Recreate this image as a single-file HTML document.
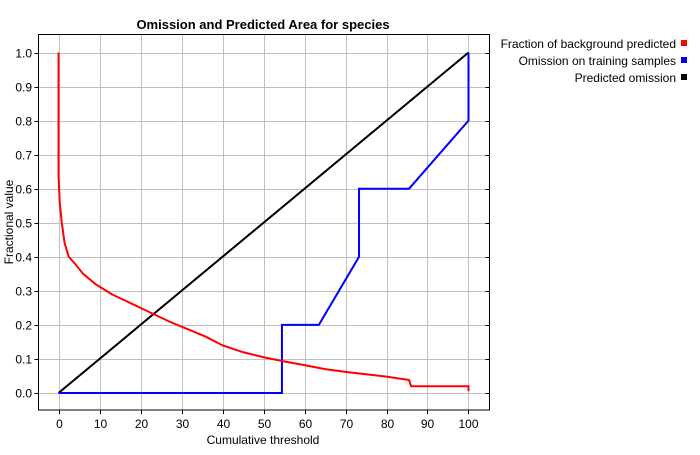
<!DOCTYPE html>
<html><head><meta charset="utf-8"><style>
body{margin:0;background:#fff;}
svg text{font-family:"Liberation Sans",sans-serif;}
</style></head><body>
<svg width="700" height="450" xmlns="http://www.w3.org/2000/svg">
<rect width="700" height="450" fill="#fff"/>
<text x="263" y="29" text-anchor="middle" font-size="13" font-weight="bold">Omission and Predicted Area for species</text>
<g id="grid"></g>
<g id="axes"></g>
<g id="series"></g>
<rect x="38.5" y="34.5" width="451" height="375.5" fill="none" stroke="#000"/>
<text x="263" y="444" text-anchor="middle" font-size="12">Cumulative threshold</text>
<text transform="translate(13,222) rotate(-90)" text-anchor="middle" font-size="12">Fractional value</text>
<g font-size="12">
<g><text x="676" y="48" text-anchor="end">Fraction of background predicted</text><rect x="681" y="40" width="6" height="6" fill="#f00"/></g>
<g><text x="676" y="65" text-anchor="end">Omission on training samples</text><rect x="681" y="57" width="6" height="6" fill="#00f"/></g>
<g><text x="676" y="82" text-anchor="end">Predicted omission</text><rect x="681" y="74" width="6" height="6" fill="#000"/></g>
</g>
</svg>
<script>
const xTicks=[0,10,20,30,40,50,60,70,80,90,100];
const yTicks=[0.0,0.1,0.2,0.3,0.4,0.5,0.6,0.7,0.8,0.9,1.0];
const redX=[0,0,0.3,0.8,1.5,2.5,4,6,9,13,20,27,36,40,45,50,55,60,65,70,75,80,85.5,86,100,100];
const redY=[1.0,0.64,0.56,0.5,0.44,0.40,0.38,0.35,0.32,0.29,0.25,0.21,0.165,0.14,0.12,0.105,0.093,0.082,0.07,0.062,0.055,0.048,0.038,0.02,0.02,0.005];
const blueX=[0,54.5,54.5,63.5,73.3,73.3,85.5,100,100];
const blueY=[0,0,0.2,0.2,0.4,0.6,0.6,0.8,1.0];
const blackX=[0,100];
const blackY=[0,1];
const sx=v=>58.5+v*4.1;
const sy=v=>393-v*340.5;
const NS="http://www.w3.org/2000/svg";
const grid=document.getElementById('grid'),axes=document.getElementById('axes'),series=document.getElementById('series');
function mk(t,a,p){const e=document.createElementNS(NS,t);for(const k in a)e.setAttribute(k,a[k]);p.appendChild(e);return e;}
xTicks.forEach(t=>{
  const x=Math.round(sx(t))+0.5;
  const g=mk('line',{x1:x,x2:x,y1:34.5,y2:410,stroke:'#c0c0c0'},grid);
  
  
  mk('line',{x1:x,x2:x,y1:410,y2:414,stroke:'#000'},axes);
  const l=mk('text',{x:x,y:428,'text-anchor':'middle','font-size':'12'},axes);
  l.textContent=t;
  
  
});
yTicks.forEach(t=>{
  const y=Math.round(sy(t))+0.5;
  const g=mk('line',{x1:38.5,x2:489.5,y1:y,y2:y,stroke:'#c0c0c0'},grid);
  
  
  mk('line',{x1:34.5,x2:38.5,y1:y,y2:y,stroke:'#000'},axes);
  mk('line',{x1:485.5,x2:489.5,y1:y,y2:y,stroke:'#000'},axes);
  const l=mk('text',{x:32,y:y+4,'text-anchor':'end','font-size':'12'},axes);
  l.textContent=t.toFixed(1);
  
  
});
function line(xs,ys,c,name){
  const p=mk('polyline',{points:xs.map((x,i)=>sx(x)+','+sy(ys[i])).join(' '),fill:'none',stroke:c,'stroke-width':2},series);
  
  
}
line(blackX,blackY,'#000','predicted-omission-line');
line(blueX,blueY,'#0000ff','omission-training-line');
line(redX,redY,'#ff0000','background-predicted-line');
</script>
</body></html>
